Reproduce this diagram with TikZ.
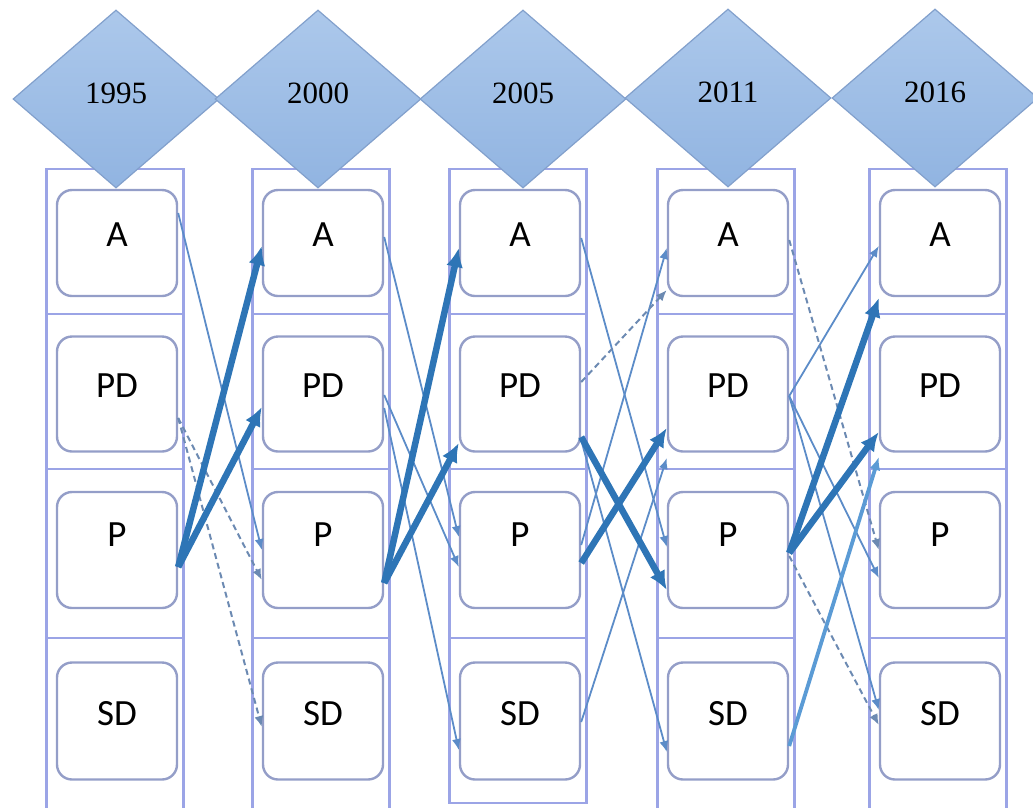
\documentclass[tikz,border=0pt]{standalone}
\usepackage{fontspec}
\setmainfont{Liberation Serif}
\newfontfamily\cellfont{Carlito}
\usepackage{xcolor}
\usetikzlibrary{arrows.meta,shapes.geometric}

\definecolor{colline}{RGB}{155,164,230}
\definecolor{boxline}{RGB}{148,158,200}
\definecolor{dkblue}{RGB}{46,117,182}
\definecolor{ltblue}{RGB}{92,140,200}
\definecolor{dashblue}{RGB}{108,138,178}
\definecolor{midblue}{RGB}{91,155,213}
\definecolor{dmtop}{RGB}{172,200,235}
\definecolor{dmbot}{RGB}{145,180,225}
\definecolor{dmline}{RGB}{130,160,204}

\begin{document}
\begin{tikzpicture}[x=1pt, y=-1pt,
  col/.style={draw=colline, line width=2.4pt},
  cell/.style={draw=boxline, line width=2.4pt, rounded corners=15pt, fill=white, minimum width=120pt, inner sep=0pt},
  celltext/.style={font=\cellfont\fontsize{37}{40}\selectfont, inner sep=0pt},
  year/.style={diamond, draw=dmline, line width=1.2pt, top color=dmtop, bottom color=dmbot,
    minimum width=206pt, minimum height=178pt, inner sep=0pt, text depth=12pt, font=\fontsize{31}{33}\selectfont},
  thinarr/.style={draw=ltblue, line width=1.8pt, -{Latex[length=11pt,width=9pt]}},
  dasharr/.style={draw=dashblue, line width=2pt, dash pattern=on 6pt off 4pt, -{Latex[length=11pt,width=9pt]}},
  midarr/.style={draw=midblue, line width=3.8pt, -{Latex[length=13pt,width=11pt]}},
  thickarr/.style={draw=dkblue, line width=6.5pt, -{Latex[length=19pt,width=17pt]}}]
  \useasboundingbox (0,0) rectangle (1033,807);

  \foreach \c/\x/\bot in {1/115/812, 2/321/812, 3/518/803, 4/726/812, 5/938/812} {
    \draw[col] (\x-68.5,169) rectangle (\x+68.5,\bot);
    \foreach \yy in {314,469,638}
      \draw[col] (\x-68.5,\yy) -- (\x+68.5,\yy);
    \foreach \r/\cy/\h/\ty in {A/243/106/235, PD/394/115/386, P/550/116/535, SD/721/117/714} {
      \node[cell, minimum height=\h] (\r\c) at (\x+2,\cy) {};
      \node[celltext] (\r\c-t) at (\x+2,\ty) {\r};
    }
  }

  \draw[thinarr] ([yshift=30pt]A1.east) -- (P2.west);
  \draw[thinarr] ([yshift=6pt]A2.east) -- ([yshift=13pt]P3.west);
  \draw[thinarr] ([yshift=-1pt]PD2.east) -- ([yshift=-17pt]P3.west);
  \draw[thinarr] ([yshift=-14pt]PD2.east) -- ([yshift=-29pt]SD3.west);
  \draw[thinarr] ([yshift=5pt]A3.east) -- ([yshift=3pt]P4.west);
  \draw[thinarr] ([yshift=5pt]P3.east) -- ([yshift=-5pt]A4.west);
  \draw[thinarr] ([yshift=-1pt]SD3.east) -- ([yshift=-64pt]PD4.west);
  \draw[thinarr] ([yshift=-46pt]PD3.east) -- ([yshift=-31pt]SD4.west);
  \draw[thinarr] ([yshift=-2pt]PD4.east) -- ([yshift=-3pt]A5.west);
  \draw[thinarr] ([yshift=-2pt]PD4.east) -- ([yshift=-28pt]P5.west);
  \draw[thinarr] ([yshift=-2pt]PD4.east) -- ([yshift=11pt]SD5.west);

  \draw[dasharr] ([yshift=-24pt]PD1.east) -- ([yshift=-30pt]P2.west);
  \draw[dasharr] ([yshift=-24pt]PD1.east) -- ([yshift=-6pt]SD2.west);
  \draw[dasharr] ([yshift=12pt]PD3.east) -- ([yshift=-47pt]A4.west);
  \draw[dasharr] ([yshift=3pt]A4.east) -- (P5.west);
  \draw[dasharr] ([yshift=-6pt]P4.east) -- ([yshift=-4pt]SD5.west);

  \draw[midarr] ([yshift=-25pt]SD4.east) -- ([yshift=-63pt]PD5.west);

  \draw[thickarr] ([yshift=-17pt]P1.east) -- ([yshift=-3pt]A2.west);
  \draw[thickarr] ([yshift=-17pt]P1.east) -- ([yshift=-13pt]PD2.west);
  \draw[thickarr] ([yshift=-33pt]P2.east) -- ([yshift=-5pt]A3.west);
  \draw[thickarr] ([yshift=-33pt]P2.east) -- ([yshift=-49pt]PD3.west);
  \draw[thickarr] ([yshift=-43pt]PD3.east) -- ([yshift=-40pt]P4.west);
  \draw[thickarr] ([yshift=-13pt]P3.east) -- ([yshift=-34pt]PD4.west);
  \draw[thickarr] ([yshift=-3pt]P4.east) -- ([yshift=-55pt]A5.west);
  \draw[thickarr] ([yshift=-3pt]P4.east) -- ([yshift=-38pt]PD5.west);

  \foreach \n/\x/\y/\yr in {1/116/99/1995, 2/318/99/2000, 3/523/99/2005, 4/728/98/2011, 5/935/98/2016}
    \node[year] (y\n) at (\x,\y) {\yr};
\end{tikzpicture}
\end{document}
